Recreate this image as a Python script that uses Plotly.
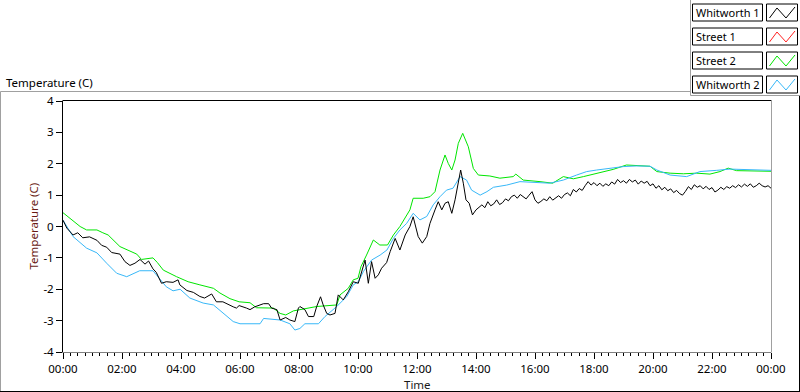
import pandas as pd
import plotly.graph_objects as go

# ---------------- data (hours since midnight, temperature in C) ----------------
whitworth1_t = [0, 0.13, 0.34, 0.5, 0.67, 0.9, 1.15, 1.31, 1.48, 1.65, 1.93, 2.1, 2.27, 2.44, 2.61, 2.78,
                2.9, 3.05, 3.16, 3.34, 3.5, 3.73, 3.9, 3.96, 4.2, 4.42, 4.64, 4.8, 5.04, 5.2, 5.42, 5.6,
                5.77, 5.88, 5.97, 6.22, 6.34, 6.5, 6.68, 6.8, 6.97, 7.07, 7.25, 7.36, 7.55, 7.69, 7.86,
                7.98, 8.03, 8.2, 8.32, 8.5, 8.6, 8.73, 8.82, 8.94, 9.05, 9.22, 9.33, 9.5, 9.67, 9.84,
                10.01, 10.12, 10.24, 10.35, 10.46, 10.58, 10.69, 10.8, 10.97, 11.09, 11.26, 11.42, 11.6,
                11.76, 11.87, 12.04, 12.18, 12.33, 12.44, 12.61, 12.72, 12.84, 12.95, 13.06, 13.18, 13.29,
                13.4, 13.48, 13.57, 13.66, 13.77, 13.88,
                14.0, 14.1, 14.2, 14.3, 14.4, 14.5, 14.6, 14.7, 14.8, 14.9, 15.0, 15.1, 15.2, 15.3, 15.4,
                15.5, 15.6, 15.7, 15.8, 15.9, 16.0, 16.1, 16.2, 16.3, 16.4, 16.5, 16.6, 16.7, 16.8, 16.9,
                17.0, 17.1, 17.2, 17.3, 17.4, 17.5, 17.6, 17.7, 17.8, 17.9, 18.0, 18.1, 18.2, 18.3, 18.4,
                18.5, 18.6, 18.7, 18.8, 18.9, 19.0, 19.1, 19.2, 19.3, 19.4, 19.5, 19.6, 19.7, 19.8, 19.9,
                20.0, 20.1, 20.2, 20.3, 20.4, 20.5, 20.6, 20.7, 20.8, 20.9, 21.0, 21.1, 21.2, 21.3, 21.4,
                21.5, 21.6, 21.7, 21.8, 21.9, 22.0, 22.1, 22.2, 22.3, 22.4, 22.5, 22.6, 22.7, 22.8, 22.9,
                23.0, 23.1, 23.2, 23.3, 23.4, 23.5, 23.6, 23.7, 23.8, 23.9, 24.0]
whitworth1_v = [0.2, -0.05, -0.27, -0.2, -0.36, -0.33, -0.44, -0.6, -0.66, -0.83, -0.88, -1.12, -1.24, -1.17,
                -1.05, -1.2, -1.1, -1.35, -1.46, -1.81, -1.76, -1.78, -1.7, -1.86, -2.04, -2.1, -2.23, -2.28,
                -2.15, -2.4, -2.4, -2.49, -2.56, -2.6, -2.52, -2.6, -2.65, -2.56, -2.5, -2.46, -2.46, -2.6,
                -2.65, -2.98, -2.9, -2.98, -3.03, -2.6, -2.55, -2.65, -2.87, -2.87, -2.55, -2.24, -2.5, -2.77,
                -2.82, -2.77, -2.18, -2.34, -2.08, -1.76, -1.81, -1.44, -1.07, -1.81, -1.12, -1.65, -1.54,
                -1.33, -1.15, -0.8, -0.38, -0.75, -0.27, 0.0, 0.31, -0.32, -0.53, -0.32, 0.1, 0.53, 0.79,
                0.53, 0.74, 0.79, 0.42, 0.85, 1.48, 1.8, 1.38, 0.85, 0.74, 0.37,
                0.53, 0.62, 0.69, 0.6, 0.79, 0.66, 0.72, 0.85, 0.7, 0.76, 0.88, 0.82, 0.95, 1.0, 0.9,
                1.02, 0.94, 0.88, 1.0, 1.11, 0.85, 0.74, 0.8, 0.88, 0.82, 0.95, 0.84, 0.92, 0.98, 0.9,
                1.02, 1.07, 0.98, 1.18, 1.1, 1.21, 1.15, 1.3, 1.43, 1.32, 1.4, 1.3, 1.38, 1.28, 1.36,
                1.3, 1.42, 1.35, 1.5, 1.4, 1.46, 1.38, 1.5, 1.42, 1.48, 1.35, 1.45, 1.38, 1.44, 1.3,
                1.36, 1.22, 1.3, 1.17, 1.25, 1.14, 1.2, 1.08, 1.15, 1.05, 1.0, 1.12, 1.27, 1.18, 1.33,
                1.25, 1.3, 1.2, 1.28, 1.18, 1.24, 1.1, 1.16, 1.25, 1.18, 1.27, 1.22, 1.3, 1.24, 1.33,
                1.26, 1.35, 1.28, 1.36, 1.25, 1.3, 1.38, 1.3, 1.26, 1.3, 1.22]

street1_t = []
street1_v = []

street2_t = [0, 0.3, 0.58, 0.8, 1.15, 1.35, 1.53, 1.93, 2.2, 2.5, 2.66, 2.85, 3.05, 3.2, 3.4, 3.85, 4.07,
             4.24, 4.64, 5.1, 5.32, 5.66, 5.97, 6.34, 6.56, 7.13, 7.36, 7.55, 7.81, 8.26, 8.6, 9.28, 9.39,
             9.67, 9.84, 10.0, 10.1, 10.29, 10.52, 10.74, 11.0, 11.2, 11.42, 11.76, 11.87, 12.21, 12.44,
             12.61, 12.78, 12.95, 13.06, 13.18, 13.29, 13.4, 13.55, 13.74, 13.91, 14.08, 14.47, 14.81,
             15.26, 15.35, 15.6, 16.17, 16.6, 16.96, 17.3, 17.64, 18.09, 18.65, 19.1, 19.56, 19.9, 20.13,
             20.58, 21.03, 21.48, 21.93, 22.27, 22.55, 22.83, 24.0]
street2_v = [0.44, 0.2, 0.0, -0.11, -0.11, -0.2, -0.27, -0.64, -0.75, -0.88, -1.05, -1.02, -1.0, -1.15,
             -1.39, -1.6, -1.7, -1.76, -1.86, -1.97, -2.12, -2.3, -2.4, -2.43, -2.59, -2.6, -2.77, -2.82,
             -2.69, -2.6, -2.55, -2.5, -2.18, -1.97, -1.7, -1.65, -1.28, -0.91, -0.43, -0.59, -0.59,
             -0.27, 0.0, 0.53, 0.9, 0.9, 0.95, 1.11, 1.8, 2.28, 2.01, 1.8, 2.12, 2.65, 2.97, 2.54, 1.85,
             1.64, 1.61, 1.54, 1.59, 1.67, 1.48, 1.43, 1.38, 1.59, 1.52, 1.59, 1.7, 1.82, 1.96, 1.93,
             1.92, 1.75, 1.7, 1.68, 1.7, 1.67, 1.75, 1.86, 1.78, 1.76]

whitworth2_t = [0, 0.34, 0.8, 1.15, 1.48, 1.82, 2.16, 2.44, 2.6, 3.05, 3.29, 3.5, 3.73, 3.97, 4.3, 4.75,
                5.1, 5.42, 5.77, 6.0, 6.68, 6.8, 7.36, 7.69, 7.86, 8.03, 8.2, 8.66, 8.88, 9.28, 9.62, 9.84,
                10.01, 10.18, 10.46, 10.75, 10.98, 11.2, 11.42, 11.65, 11.87, 12.1, 12.33, 12.55, 12.78,
                13.0, 13.22, 13.46, 13.68, 13.85, 14.14, 14.37, 14.59, 15.04, 15.49, 16.5, 16.96, 17.41,
                17.75, 18.09, 18.54, 19.0, 19.45, 19.9, 20.13, 20.58, 21.14, 21.59, 22.16, 22.61, 24.0]
whitworth2_v = [0.2, -0.32, -0.69, -0.84, -1.17, -1.49, -1.6, -1.49, -1.41, -1.41, -1.7, -1.92, -2.05,
                -2.0, -2.28, -2.44, -2.5, -2.76, -3.03, -3.1, -3.1, -2.93, -2.98, -3.1, -3.3, -3.25, -3.1,
                -3.1, -2.87, -2.55, -2.23, -1.86, -1.76, -1.44, -1.07, -0.91, -0.75, -0.38, -0.11, 0.1,
                0.42, 0.21, 0.32, 0.69, 0.95, 1.16, 1.22, 1.59, 1.48, 1.16, 1.0, 1.11, 1.25, 1.32, 1.43,
                1.38, 1.48, 1.64, 1.75, 1.8, 1.86, 1.91, 1.93, 1.92, 1.8, 1.64, 1.59, 1.75, 1.79, 1.83,
                1.79]

series_names = ["Whitworth 1", "Street 1", "Street 2", "Whitworth 2"]
series_colors = ["#000000", "#ff2020", "#00e600", "#38b8f8"]
x_tick_hours = [0, 2, 4, 6, 8, 10, 12, 14, 16, 18, 20, 22, 24]
x_tick_text = ["00:00", "02:00", "04:00", "06:00", "08:00", "10:00", "12:00", "14:00", "16:00",
               "18:00", "20:00", "22:00", "00:00"]
y_tick_vals = [-4, -3, -2, -1, 0, 1, 2, 3, 4]
y_tick_text = ["-4", "-3", "-2", "-1", "0", "1", "2", "3", "4"]

BASE = pd.Timestamp("2024-01-01")


def to_time(hours):
    return [BASE + pd.Timedelta(hours=h) for h in hours]


series = [(whitworth1_t, whitworth1_v), (street1_t, street1_v),
          (street2_t, street2_v), (whitworth2_t, whitworth2_v)]

fig = go.Figure()
# draw order: street 2, whitworth 2 behind black
for idx in [1, 2, 3, 0]:
    t, v = series[idx]
    fig.add_trace(go.Scatter(x=to_time(t), y=v, mode="lines", name=series_names[idx],
                             line=dict(color=series_colors[idx], width=1), showlegend=False))

# ---------------- layout geometry ----------------
L, R, T, B = 63, 771, 101, 352
W, H = 800, 392


def xp(px):
    return (px - L) / (R - L)


def yp(py):
    return (B - py) / (B - T)


FONT = "Noto Sans, Liberation Sans, sans-serif"

shapes = []


def line(x0, y0, x1, y1, color, width=1):
    shapes.append(dict(type="line", xref="paper", yref="paper", x0=xp(x0), y0=yp(y0),
                       x1=xp(x1), y1=yp(y1), line=dict(color=color, width=width)))


# outer panel frame
line(0.5, 91.5, 690.5, 91.5, "#a0a0a0")
line(0.5, 91.5, 0.5, 392, "#a0a0a0")
line(0, 391.5, 800, 391.5, "#000000")
line(799.5, 95.5, 799.5, 392, "#000000")
# legend panel border
line(690.5, 0, 690.5, 95.5, "#a0a0a0")
line(690.5, 95.5, 800, 95.5, "#a0a0a0")
# plot frame
line(62.5, 100.5, 771.5, 100.5, "#000000")
line(771.5, 100.5, 771.5, 352.5, "#a0a0a0")

annotations = []
# legend entries
for i, (name, col) in enumerate(zip(series_names, series_colors)):
    top = 4 + 24 * i
    bot = top + 17
    shapes.append(dict(type="rect", xref="paper", yref="paper", x0=xp(692.5), x1=xp(762.5),
                       y0=yp(bot), y1=yp(top), line=dict(color="#000000", width=1),
                       fillcolor="white"))
    shapes.append(dict(type="rect", xref="paper", yref="paper", x0=xp(766.5), x1=xp(797.5),
                       y0=yp(bot), y1=yp(top), line=dict(color="#000000", width=1),
                       fillcolor="white"))
    pts = [(769.5, top + 14), (777, top + 4), (786, top + 14), (795, top + 3)]
    path = "M " + " L ".join(f"{xp(a):.5f},{yp(b):.5f}" for a, b in pts)
    shapes.append(dict(type="path", xref="paper", yref="paper", path=path,
                       line=dict(color=col, width=1)))
    annotations.append(dict(text=name, xref="paper", yref="paper", x=xp(694), y=yp(top + 8.5),
                            xanchor="left", yanchor="middle", showarrow=False,
                            font=dict(family=FONT, size=11, color="#000000")))

# titles
annotations.append(dict(text="Temperature (C)", xref="paper", yref="paper", x=xp(4), y=yp(82),
                        xanchor="left", yanchor="middle", showarrow=False,
                        font=dict(family=FONT, size=11.5, color="#000000")))
annotations.append(dict(text="Temperature (C)", xref="paper", yref="paper", x=xp(33), y=0.5,
                        xanchor="center", yanchor="middle", textangle=-90, showarrow=False,
                        font=dict(family=FONT, size=11.5, color="#6a1a14")))
annotations.append(dict(text="Time", xref="paper", yref="paper", x=0.5, y=yp(384),
                        xanchor="center", yanchor="middle", showarrow=False,
                        font=dict(family=FONT, size=11.5, color="#1a1a1a")))

fig.update_layout(
    width=W, height=H,
    margin=dict(l=L, r=W - R, t=T, b=H - B, pad=0),
    paper_bgcolor="white", plot_bgcolor="white",
    showlegend=False,
    shapes=shapes, annotations=annotations,
    xaxis=dict(
        type="date",
        range=[BASE, BASE + pd.Timedelta(hours=24)],
        tickmode="array", tickvals=to_time(x_tick_hours), ticktext=x_tick_text,
        ticks="outside", ticklen=6, tickcolor="#000000", tickwidth=1,
        minor=dict(dtick=15 * 60 * 1000, tick0=BASE, ticks="outside", ticklen=3,
                   tickcolor="#000000", tickwidth=1, showgrid=False),
        showline=True, linecolor="#808080", linewidth=1,
        showgrid=False, zeroline=False,
        tickfont=dict(family=FONT, size=11.5, color="#000000"),
        fixedrange=True,
    ),
    yaxis=dict(
        range=[-4, 4],
        tickmode="array", tickvals=y_tick_vals, ticktext=y_tick_text,
        ticks="outside", ticklen=6, tickcolor="#000000", tickwidth=1,
        showline=True, linecolor="#000000", linewidth=1,
        showgrid=False, zeroline=False,
        tickfont=dict(family=FONT, size=11.5, color="#000000"),
        fixedrange=True,
    ),
)

fig.write_html("out.html", config={"displayModeBar": False},
               post_script="document.body.style.margin='0';document.body.style.overflow='hidden';")
